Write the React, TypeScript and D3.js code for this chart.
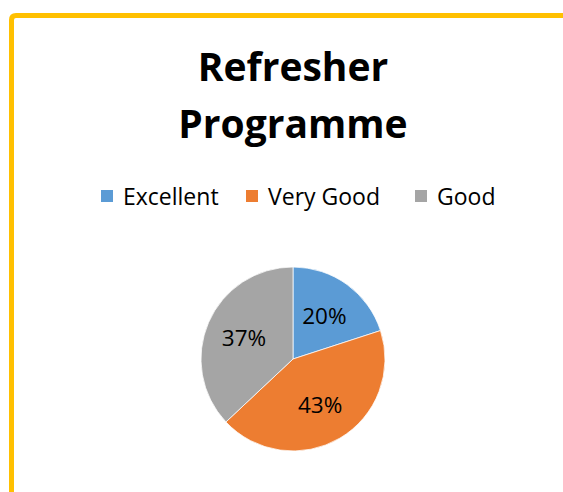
import React from 'react';
import * as d3 from 'd3';

const categories = ['Excellent', 'Very Good', 'Good'];
const values = [20, 43, 37];
const colors = ['#5B9BD5', '#ED7D31', '#A5A5A5'];
const titleLines = ['Refresher', 'Programme'];

const W = 563;
const H = 492;
const FONT = "'Open Sans', 'Noto Sans', sans-serif";

const App = () => {
    const cx = 293;
    const cy = 359;
    const r = 92;

    //pie starts at 12 o'clock, goes clockwise in data order
    const pie = d3.pie<number>().sort(null).value(d => d);
    const arcs = pie(values);
    const arc = d3.arc<d3.PieArcDatum<number>>().innerRadius(0).outerRadius(r);
    const labelArc = d3.arc<d3.PieArcDatum<number>>().innerRadius(r * 0.58).outerRadius(r * 0.58);

    //legend x positions (square left edge)
    const legendX = [101, 246, 415];

    return (
        <div style={{ position: 'absolute', left: 0, top: 0 }}>
            <svg width={W} height={H} style={{ display: 'block', background: '#fff' }}>
                {/* frame */}
                <path
                    d={`M11.5,${H + 10} L11.5,20 Q11.5,15.5 16,15.5 L${W + 10},15.5`}
                    fill="none"
                    stroke="#FFC000"
                    strokeWidth={5}
                />
                {/* title */}
                {titleLines.map((t, i) => (
                    <text
                        key={t}
                        x={293}
                        y={81 + i * 57}
                        textAnchor="middle"
                        fontFamily={FONT}
                        fontWeight="bold"
                        fontSize={39}
                        fill="#000"
                    >
                        {t}
                    </text>
                ))}
                {/* legend */}
                {categories.map((c, i) => (
                    <g key={c}>
                        <rect x={legendX[i]} y={190} width={12} height={12} fill={colors[i]} />
                        <text
                            x={legendX[i] + 22}
                            y={204.5}
                            fontFamily={FONT}
                            fontSize={23}
                            fill="#000"
                        >
                            {c}
                        </text>
                    </g>
                ))}
                {/* pie */}
                <g transform={`translate(${cx},${cy})`}>
                    {arcs.map((a, i) => (
                        <path key={i} d={arc(a) || ''} fill={colors[i]} stroke="#fff" strokeWidth={0.75} />
                    ))}
                    {arcs.map((a, i) => {
                        const [lx, ly] = labelArc.centroid(a);
                        return (
                            <text
                                key={'l' + i}
                                x={lx}
                                y={ly}
                                dy="0.35em"
                                textAnchor="middle"
                                fontFamily={FONT}
                                fontSize={22.5}
                                fill="#000"
                            >
                                {values[i]}%
                            </text>
                        );
                    })}
                </g>
            </svg>
        </div>
    );
};

export default App;
